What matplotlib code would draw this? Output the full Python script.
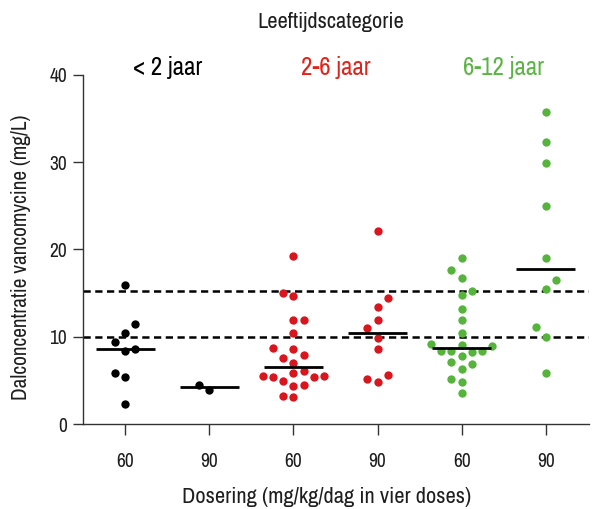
import numpy as np
import matplotlib
matplotlib.use("Agg")
import matplotlib.pyplot as plt
import matplotlib.font_manager as fm

# ---------------- data ----------------
positions_labels = ["60", "90", "60", "90", "60", "90"]
age_groups = ["< 2 jaar", "2-6 jaar", "6-12 jaar"]
ylabel_text = "Dalconcentratie vancomycine (mg/L)"
xlabel_text = "Dosering (mg/kg/dag in vier doses)"
title_text = "Leeftijdscategorie"

lt2_60 = [15.9, 11.5, 10.45, 9.45, 8.6, 8.4, 5.87, 5.37, 2.36]
lt2_90 = [4.53, 3.92]
a26_60 = [19.2, 15.0, 14.7, 11.9, 11.9, 10.5, 8.73, 8.58, 7.93, 7.59, 7.05,
          6.13, 5.83, 5.53, 5.49, 5.37, 5.37, 4.99, 4.46, 4.38, 3.27, 3.09]
a26_90 = [22.1, 14.5, 13.4, 11.97, 11.0, 9.9, 8.58, 5.64, 5.15, 4.87]
a612_60 = [19.03, 17.7, 16.74, 15.29, 14.8, 13.16, 11.93, 10.5, 9.19, 9.05,
           9.0, 8.35, 8.35, 8.35, 8.24, 7.85, 7.13, 6.93, 6.37, 5.15, 4.87, 3.58]
a612_90 = [35.7, 32.3, 29.93, 24.98, 19.03, 16.5, 15.44, 11.13, 9.99, 5.83]

groups = [lt2_60, lt2_90, a26_60, a26_90, a612_60, a612_90]
thresholds = [10.0, 15.2]
yticks = [0, 10, 20, 30, 40]

# ---------------- style ----------------
BLACK = "#000000"
RED = "#d9161e"
GREEN = "#56b43c"
RED_TXT = "#e2231a"
GREEN_TXT = "#5bb544"
TXT = "#1e1e1e"
group_colors = [BLACK, BLACK, RED, RED, GREEN, GREEN]
label_colors = [BLACK, RED_TXT, GREEN_TXT]


def pick_font():
    ok_w = (400, "normal", "regular", "book")
    narrow, cond, regular = [], [], []
    for f in fm.fontManager.ttflist:
        if f.style != "normal" or f.weight not in ok_w:
            continue
        st = str(f.stretch)
        if "Narrow" in f.name:
            narrow.append(f)
        elif "condensed" in st or "Condensed" in f.name:
            cond.append(f)
        elif f.name == "Liberation Sans":
            regular.append(f)
    for lst in (narrow, cond, regular):
        if lst:
            lst.sort(key=lambda f: (f.name != "DejaVu Sans", "extra" in str(f.stretch)))
            return lst[0].fname
    return None


FNAME = pick_font()


def fprop(size):
    if FNAME:
        return fm.FontProperties(fname=FNAME, size=size)
    return fm.FontProperties(family="DejaVu Sans", size=size)


W_PX, H_PX = 597, 509
fig = plt.figure(figsize=(W_PX / 100, H_PX / 100), dpi=100)
ax_l, ax_r, ax_b, ax_t = 83, 589, 424.3, 74.7
ax = fig.add_axes([ax_l / W_PX, 1 - ax_b / H_PX, (ax_r - ax_l) / W_PX, (ax_b - ax_t) / H_PX])
renderer = fig.canvas.get_renderer()


def fit_size(text, target_px, rotated=False):
    t = fig.text(0, 0, text, fontproperties=fprop(10))
    bb = t.get_window_extent(renderer)
    t.remove()
    return 10 * target_px / bb.width


x = np.arange(len(groups))
xmin, xmax = -0.503, 5.514
ax.set_xlim(xmin, xmax)
ax.set_ylim(0, 40)

px_per_x = (ax_r - ax_l) / (xmax - xmin)
px_per_y = (ax_b - ax_t) / 40.0

COL_PX = 10.2
D_PX = 10.3


def swarm(vals):
    vals = np.asarray(vals, float)
    order = np.argsort(vals, kind="stable")
    cols = np.zeros(len(vals))
    placed = []
    last = 1
    for i in order:
        ypx = vals[i] * px_per_y

        def free(k):
            return all(not (c == k and abs(p - ypx) < D_PX) for c, p in placed)

        if free(0):
            k = 0
        else:
            k = None
            m = 1
            while k is None:
                cand = [s * m for s in (1, -1) if free(s * m)]
                if len(cand) == 2:
                    cnt = {c: sum(1 for cc, _ in placed if cc == c) for c in cand}
                    if cnt[cand[0]] != cnt[cand[1]]:
                        k = min(cand, key=lambda c: cnt[c])
                    else:
                        k = -last * m
                elif len(cand) == 1:
                    k = cand[0]
                m += 1
            last = int(np.sign(k))
        placed.append((k, ypx))
        cols[i] = k
    return cols * COL_PX / px_per_x


for xi, vals, col in zip(x, groups, group_colors):
    offs = swarm(vals)
    ax.plot(xi + offs, vals, "o", color=col, markersize=6.0,
            markeredgewidth=0, zorder=3)
    med = np.median(vals)
    ax.plot([xi - 0.35, xi + 0.35], [med, med], color="black", lw=2.0,
            solid_capstyle="butt", zorder=4)

for t in thresholds:
    ax.axhline(t, color="black", lw=1.8, linestyle=(0, (2.9, 1.8)), zorder=2)

for s in ["top", "right"]:
    ax.spines[s].set_visible(False)
for s in ["left", "bottom"]:
    ax.spines[s].set_color("#333333")
    ax.spines[s].set_linewidth(1.0)
ax.set_yticks(yticks)
ax.set_xticks(x)
ax.set_xticklabels(positions_labels)
tick_size = fit_size("40", 17.5)
ax.tick_params(axis="y", direction="out", length=7.4, width=1.0, color="#333333",
               pad=4, labelcolor=TXT)
ax.tick_params(axis="x", direction="out", length=7.9, width=1.0, color="#333333",
               pad=12.0, labelcolor=TXT)
for lab in ax.get_xticklabels() + ax.get_yticklabels():
    lab.set_fontproperties(fprop(tick_size))

grp_size = fit_size(age_groups[0], 69)
for gi, (lab, c) in enumerate(zip(age_groups, label_colors)):
    ax.text(2 * gi + 0.5, 40.0, lab, color=c, ha="center", va="baseline",
            fontproperties=fprop(grp_size), clip_on=False)

fig.text(331 / W_PX, 1 - 28 / H_PX, title_text, ha="center", va="baseline",
         fontproperties=fprop(fit_size(title_text, 147)), color=TXT)
fig.text(327 / W_PX, 1 - 503 / H_PX, xlabel_text, ha="center", va="baseline",
         fontproperties=fprop(fit_size(xlabel_text, 288)), color=TXT)
fig.text(21 / W_PX, 1 - 257 / H_PX, ylabel_text, ha="center", va="center",
         rotation=90, fontproperties=fprop(fit_size(ylabel_text, 287)), color=TXT)

fig.savefig("out.png", dpi=100)
